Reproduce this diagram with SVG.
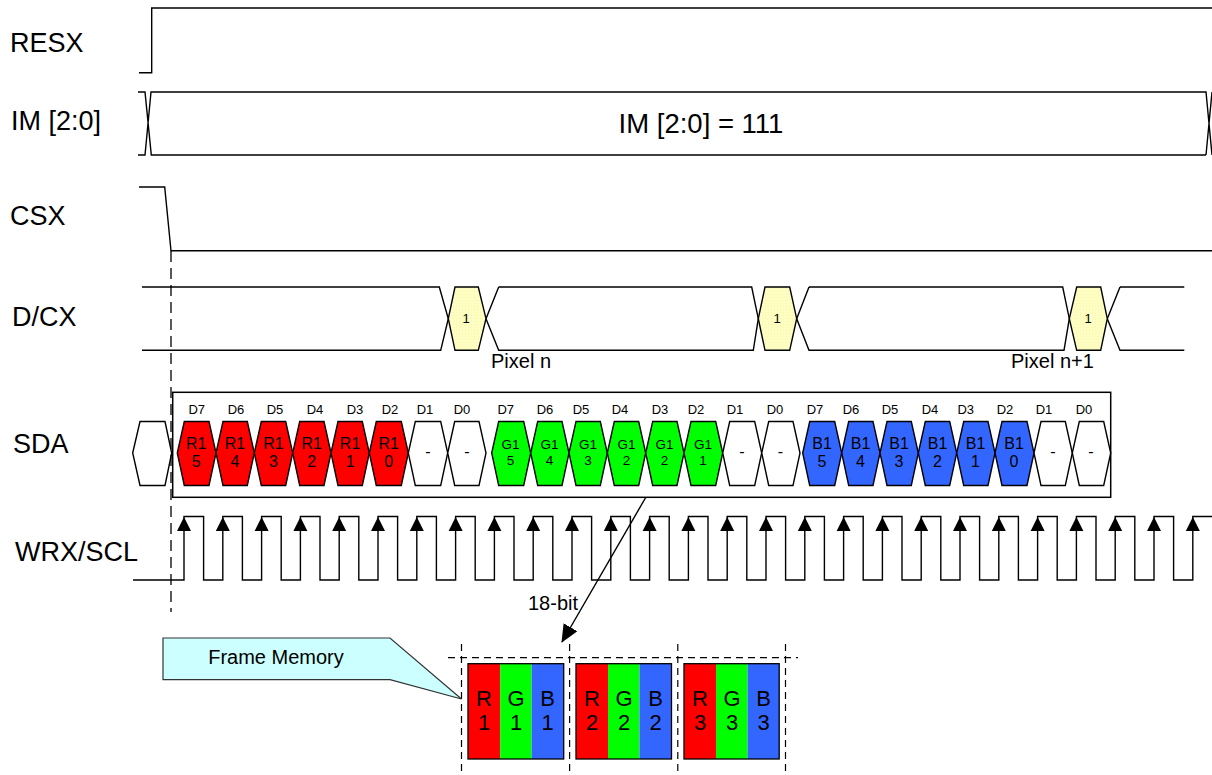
<svg xmlns="http://www.w3.org/2000/svg" width="1212" height="775" viewBox="0 0 1212 775">
<style>
text{font-family:"Liberation Sans",Arial,sans-serif;fill:#000}
.m{text-anchor:middle}
.w{fill:none;stroke:#000;stroke-width:1.4}
.h{stroke:#000;stroke-width:1.4}
.r{fill:#f00}.g{fill:#0f0}.b{fill:#36f}.n{fill:#fff}.y{fill:url(#yg)}
.sig{font-size:27px}
.d{font-size:13px;text-anchor:middle}
.t{font-size:16px;text-anchor:middle}
.tg{font-size:13.5px;text-anchor:middle}
.p{font-size:20px}
.mem{font-size:22px;text-anchor:middle}
.dash{fill:none;stroke:#000;stroke-width:1.3;stroke-dasharray:11 6}
.dash2{fill:none;stroke:#000;stroke-width:1.2;stroke-dasharray:7 5}
</style>
<defs>
<pattern id="yg" width="3" height="3" patternUnits="userSpaceOnUse"><rect width="3" height="3" fill="#ffffc4"/><path d="M0 0H3M0 0V3" stroke="#f4f4b0" stroke-width="0.6"/></pattern>
<polygon id="ah" points="0,0.5 7,14.5 -7,14.5" fill="#000"/>
<marker id="big" markerUnits="userSpaceOnUse" markerWidth="20" markerHeight="18" refX="17" refY="8" orient="auto"><path d="M0,0 L18,8 L0,16 Z" fill="#000"/></marker>
</defs>

<g id="RESX"><path class="w" d="M139 72.7H151.7V8H1212"/><text class="sig" x="10" y="52">RESX</text></g>

<g id="IM"><path class="w" d="M138 92H145L151.3 155H1206M138 155H145L151 92H1206L1212 155M1206 155L1212 92" stroke-width="1.7"/><text class="sig" x="11" y="130">IM [2:0]</text><text class="m" font-size="27.5" x="701" y="133">IM [2:0] = 111</text></g>

<g id="CSX"><path class="w" d="M139 187H164.7L171 250.7H1212"/><text class="sig" x="10" y="225">CSX</text></g>

<g id="DCX">
<path class="w" d="M142 287H439.3L448.3 318.7L440.7 350.3H142M498.7 287L486 318.7L498.7 350.3H753.3L758.3 318.7L751.7 287H498.7M809 287L796.7 318.7L809 350.3H1064L1069.3 318.7L1062.7 287H809M1120 287L1107.3 318.7L1120 350.3H1184.3M1120 287H1184.3"/>
<polygon class="h y" points="448.3,318.7 455,287 478.3,287 486,318.7 478.3,350.3 455,350.3"/>
<polygon class="h y" points="758.3,318.7 765,287 789.7,287 796.7,318.7 789.7,350.3 765,350.3"/>
<polygon class="h y" points="1069.3,318.7 1076.7,287 1100.7,287 1107.3,318.7 1100.7,350.3 1076.7,350.3"/>
<text class="d" x="466" y="323">1</text><text class="d" x="777" y="323">1</text><text class="d" x="1088" y="323">1</text>
<text class="sig" x="12" y="326">D/CX</text>
<text class="p" x="491" y="368">Pixel n</text><text class="p" x="1011" y="368">Pixel n+1</text>
</g>

<g id="SDA">
<text class="sig" x="13" y="453">SDA</text>
<polygon class="h n" points="132.7,453 140,421.5 165,421.5 171.7,453 165,485.5 140,485.5"/>
<rect x="172.7" y="392.3" width="938" height="105" fill="none" stroke="#000" stroke-width="1.5"/>
<g id="bits-d">
<text class="d" x="196.7" y="414">D7</text><text class="d" x="236" y="414">D6</text><text class="d" x="275" y="414">D5</text><text class="d" x="315" y="414">D4</text><text class="d" x="355" y="414">D3</text><text class="d" x="390" y="414">D2</text><text class="d" x="425" y="414">D1</text><text class="d" x="462" y="414">D0</text>
<text class="d" x="505.7" y="414">D7</text><text class="d" x="545" y="414">D6</text><text class="d" x="581" y="414">D5</text><text class="d" x="620" y="414">D4</text><text class="d" x="660" y="414">D3</text><text class="d" x="696" y="414">D2</text><text class="d" x="735" y="414">D1</text><text class="d" x="775" y="414">D0</text>
<text class="d" x="815" y="414">D7</text><text class="d" x="851" y="414">D6</text><text class="d" x="890" y="414">D5</text><text class="d" x="930" y="414">D4</text><text class="d" x="965.7" y="414">D3</text><text class="d" x="1005" y="414">D2</text><text class="d" x="1044" y="414">D1</text><text class="d" x="1084" y="414">D0</text>
</g>
<g id="R15"><polygon class="h r" points="177.3,453 184.3,421.5 209,421.5 216,453 209,485.5 184.3,485.5"/><text class="t" x="196.2" y="449">R1</text><text class="t" x="196.2" y="467">5</text></g>
<g id="R14"><polygon class="h r" points="216,453 223,421.5 247.3,421.5 254.3,453 247.3,485.5 223,485.5"/><text class="t" x="235" y="449">R1</text><text class="t" x="235" y="467">4</text></g>
<g id="R13"><polygon class="h r" points="254.3,453 261.3,421.5 285.7,421.5 292.7,453 285.7,485.5 261.3,485.5"/><text class="t" x="273.5" y="449">R1</text><text class="t" x="273.5" y="467">3</text></g>
<g id="R12"><polygon class="h r" points="292.7,453 299.7,421.5 324,421.5 331,453 324,485.5 299.7,485.5"/><text class="t" x="311.8" y="449">R1</text><text class="t" x="311.8" y="467">2</text></g>
<g id="R11"><polygon class="h r" points="331,453 338,421.5 362.3,421.5 369.3,453 362.3,485.5 338,485.5"/><text class="t" x="350.1" y="449">R1</text><text class="t" x="350.1" y="467">1</text></g>
<g id="R10"><polygon class="h r" points="369.3,453 376.3,421.5 401.3,421.5 408.3,453 401.3,485.5 376.3,485.5"/><text class="t" x="388.8" y="449">R1</text><text class="t" x="388.8" y="467">0</text></g>
<g id="W1"><polygon class="h n" points="408.3,453 415.3,421.5 440.7,421.5 447.7,453 440.7,485.5 415.3,485.5"/><text class="t" x="428" y="457">-</text></g>
<g id="W0"><polygon class="h n" points="447.7,453 454.7,421.5 479,421.5 486,453 479,485.5 454.7,485.5"/><text class="t" x="466.8" y="457">-</text></g>
<g id="G15"><polygon class="h g" points="491.7,453 498.7,421.5 523.7,421.5 530.7,453 523.7,485.5 498.7,485.5"/><text class="tg" x="510.5" y="449">G1</text><text class="tg" x="510.5" y="465">5</text></g>
<g id="G14"><polygon class="h g" points="530.7,453 537.7,421.5 562,421.5 569,453 562,485.5 537.7,485.5"/><text class="tg" x="549.5" y="449">G1</text><text class="tg" x="549.5" y="465">4</text></g>
<g id="G13"><polygon class="h g" points="569,453 576,421.5 600.3,421.5 607.3,453 600.3,485.5 576,485.5"/><text class="tg" x="588" y="449">G1</text><text class="tg" x="588" y="465">3</text></g>
<g id="G12"><polygon class="h g" points="607.3,453 614.3,421.5 638.7,421.5 645.7,453 638.7,485.5 614.3,485.5"/><text class="tg" x="626.5" y="449">G1</text><text class="tg" x="626.5" y="465">2</text></g>
<g id="G12b"><polygon class="h g" points="645.7,453 652.7,421.5 677,421.5 684,453 677,485.5 652.7,485.5"/><text class="tg" x="664.5" y="449">G1</text><text class="tg" x="664.5" y="465">2</text></g>
<g id="G11"><polygon class="h g" points="684,453 691,421.5 715.7,421.5 722.7,453 715.7,485.5 691,485.5"/><text class="tg" x="703" y="449">G1</text><text class="tg" x="703" y="465">1</text></g>
<g id="W3"><polygon class="h n" points="722.7,453 729.7,421.5 754.7,421.5 761.7,453 754.7,485.5 729.7,485.5"/><text class="t" x="742" y="457">-</text></g>
<g id="W2"><polygon class="h n" points="761.7,453 768.7,421.5 793,421.5 800,453 793,485.5 768.7,485.5"/><text class="t" x="780.5" y="457">-</text></g>
<g id="B15"><polygon class="h b" points="802.7,453 809.7,421.5 834.7,421.5 841.7,453 834.7,485.5 809.7,485.5"/><text class="t" x="822" y="449">B1</text><text class="t" x="822" y="467">5</text></g>
<g id="B14"><polygon class="h b" points="841.7,453 848.7,421.5 873,421.5 880,453 873,485.5 848.7,485.5"/><text class="t" x="860.5" y="449">B1</text><text class="t" x="860.5" y="467">4</text></g>
<g id="B13"><polygon class="h b" points="880,453 887,421.5 911.3,421.5 918.3,453 911.3,485.5 887,485.5"/><text class="t" x="899" y="449">B1</text><text class="t" x="899" y="467">3</text></g>
<g id="B12"><polygon class="h b" points="918.3,453 925.3,421.5 949.7,421.5 956.7,453 949.7,485.5 925.3,485.5"/><text class="t" x="937.5" y="449">B1</text><text class="t" x="937.5" y="467">2</text></g>
<g id="B11"><polygon class="h b" points="956.7,453 963.7,421.5 988,421.5 995,453 988,485.5 963.7,485.5"/><text class="t" x="975.5" y="449">B1</text><text class="t" x="975.5" y="467">1</text></g>
<g id="B10"><polygon class="h b" points="995,453 1002,421.5 1027,421.5 1034,453 1027,485.5 1002,485.5"/><text class="t" x="1014" y="449">B1</text><text class="t" x="1014" y="467">0</text></g>
<g id="W5"><polygon class="h n" points="1034,453 1041,421.5 1065.3,421.5 1072.3,453 1065.3,485.5 1041,485.5"/><text class="t" x="1053" y="457">-</text></g>
<g id="W4"><polygon class="h n" points="1072.3,453 1079.3,421.5 1103.7,421.5 1110.7,453 1103.7,485.5 1079.3,485.5"/><text class="t" x="1091" y="457">-</text></g>
</g>

<g id="WRX">
<text class="sig" x="15" y="561">WRX/SCL</text>
<path class="w" d="M133 580H184V516.5h19.6V580h19.2V516.5h19.6V580h19.2V516.5h19.6V580h19.2V516.5h19.6V580h19.2V516.5h19.6V580h19.2V516.5h19.6V580h19.2V516.5h19.6V580h19.2V516.5h19.6V580h19.2V516.5h19.6V580h19.2V516.5h19.6V580h19.2V516.5h19.6V580h19.2V516.5h19.6V580h19.2V516.5h19.6V580h19.2V516.5h19.6V580h19.2V516.5h19.6V580h19.2V516.5h19.6V580h19.2V516.5h19.6V580h19.2V516.5h19.6V580h19.2V516.5h19.6V580h19.2V516.5h19.6V580h19.2V516.5h19.6V580h19.2V516.5h19.6V580h19.2V516.5h19.6V580h19.2V516.5h19.6V580h19.2V516.5h19.6V580h19.2V516.5h19.6V580h19.2V516.5H1212"/>
<g transform="translate(0,516.5)">
<use href="#ah" x="184"/><use href="#ah" x="222.8"/><use href="#ah" x="261.6"/><use href="#ah" x="300.4"/><use href="#ah" x="339.2"/><use href="#ah" x="378"/><use href="#ah" x="416.8"/><use href="#ah" x="455.6"/><use href="#ah" x="494.4"/><use href="#ah" x="533.2"/><use href="#ah" x="572"/><use href="#ah" x="610.8"/><use href="#ah" x="649.6"/><use href="#ah" x="688.4"/><use href="#ah" x="727.2"/><use href="#ah" x="766"/><use href="#ah" x="804.8"/><use href="#ah" x="843.6"/><use href="#ah" x="882.4"/><use href="#ah" x="921.2"/><use href="#ah" x="960"/><use href="#ah" x="998.8"/><use href="#ah" x="1037.6"/><use href="#ah" x="1076.4"/><use href="#ah" x="1115.2"/><use href="#ah" x="1154"/><use href="#ah" x="1192.8"/>
</g>
</g>

<g id="connectors">
<path class="dash" d="M171 251V612"/>
<path fill="none" stroke="#000" stroke-width="1.4" d="M645.7 497.5L562 642" marker-end="url(#big)"/>
<path class="dash2" d="M461.5 644V775M569.6 644V775M677.8 644V775M785.5 644V775M448 657.7H798"/>
</g>
<text class="p" id="bits18" x="528" y="610">18-bit</text>

<g id="FrameMemory"><polygon points="163,638 390,638 461.5,699 390,679.7 163,679.7" fill="#ccffff" stroke="#333" stroke-width="1.2"/><text x="276" y="664" font-size="20" class="m">Frame Memory</text></g>

<g id="Pixel1">
<rect class="r" x="468" y="663.7" width="32.2" height="95.3"/><rect class="g" x="500.2" y="663.7" width="31.5" height="95.3"/><rect class="b" x="531.7" y="663.7" width="32" height="95.3"/><rect x="468" y="663.7" width="95.7" height="95.3" fill="none" stroke="#000" stroke-width="1.3"/>
<text class="mem" x="484" y="706">R</text><text class="mem" x="484" y="730">1</text><text class="mem" x="516" y="706">G</text><text class="mem" x="516" y="730">1</text><text class="mem" x="547.5" y="706">B</text><text class="mem" x="547.5" y="730">1</text>
</g>
<g id="Pixel2">
<rect class="r" x="576" y="663.7" width="32" height="95.3"/><rect class="g" x="608" y="663.7" width="31.5" height="95.3"/><rect class="b" x="639.5" y="663.7" width="32" height="95.3"/><rect x="576" y="663.7" width="95.5" height="95.3" fill="none" stroke="#000" stroke-width="1.3"/>
<text class="mem" x="592" y="706">R</text><text class="mem" x="592" y="730">2</text><text class="mem" x="624" y="706">G</text><text class="mem" x="624" y="730">2</text><text class="mem" x="655.5" y="706">B</text><text class="mem" x="655.5" y="730">2</text>
</g>
<g id="Pixel3">
<rect class="r" x="684" y="663.7" width="32" height="95.3"/><rect class="g" x="716" y="663.7" width="31.6" height="95.3"/><rect class="b" x="747.6" y="663.7" width="31.6" height="95.3"/><rect x="684" y="663.7" width="95.2" height="95.3" fill="none" stroke="#000" stroke-width="1.3"/>
<text class="mem" x="700" y="706">R</text><text class="mem" x="700" y="730">3</text><text class="mem" x="732" y="706">G</text><text class="mem" x="732" y="730">3</text><text class="mem" x="763.5" y="706">B</text><text class="mem" x="763.5" y="730">3</text>
</g>
</svg>
